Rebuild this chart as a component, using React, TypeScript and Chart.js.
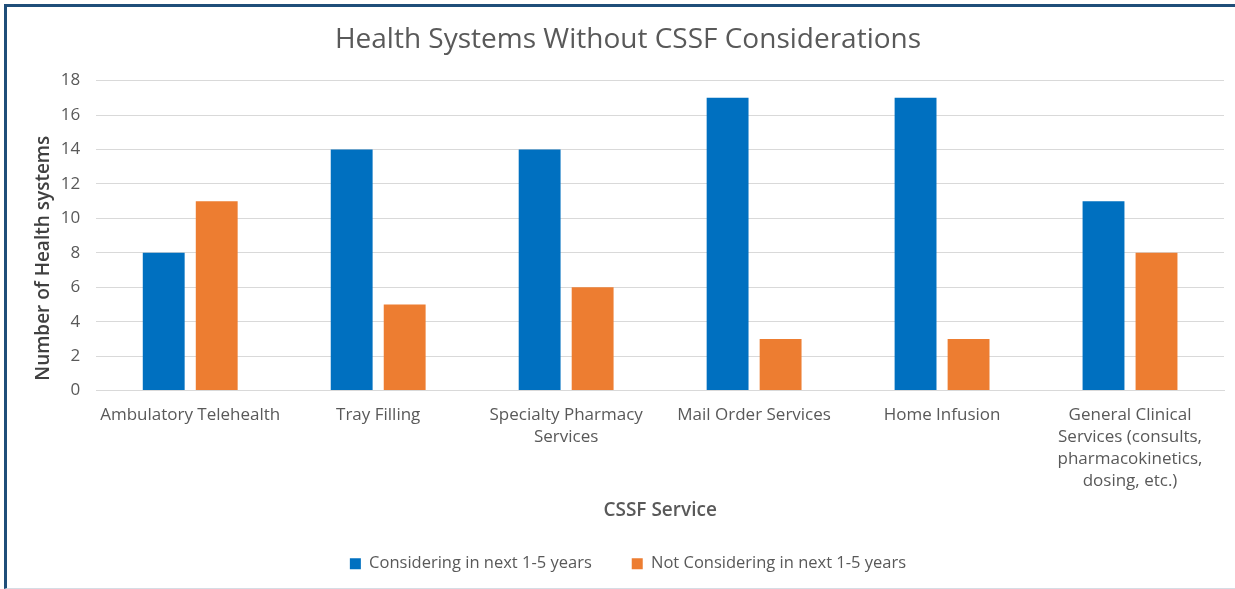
import React, { useEffect, useRef } from "react";
import { Chart, registerables } from "chart.js";

Chart.register(...registerables);

const chartTitle = "Health Systems Without CSSF Considerations";
const xAxisTitle = "CSSF Service";
const yAxisTitle = "  Number of Health systems";
const categories: string[][] = [
  ["Ambulatory Telehealth"],
  ["Tray Filling"],
  ["Specialty Pharmacy", "Services"],
  ["Mail Order Services"],
  ["Home Infusion"],
  ["General Clinical", "Services (consults,", "pharmacokinetics,", "dosing, etc.)"],
];
const seriesNames = ["Considering in next 1-5 years", "Not Considering in next 1-5 years"];
const considering = [8, 14, 14, 17, 17, 11];
const notConsidering = [11, 5, 6, 3, 3, 8];
const yMin = 0;
const yMax = 18;
const yStep = 2;

const FONT = "'Open Sans', Roboto, sans-serif";

export default function App() {
  const ref = useRef<HTMLCanvasElement | null>(null);

  useEffect(() => {
    document.body.style.margin = "0";
    const canvas = ref.current;
    if (!canvas) return;
    const chart = new Chart(canvas, {
      type: "bar",
      data: {
        labels: categories,
        datasets: [
          {
            label: seriesNames[0],
            data: considering,
            backgroundColor: "#0070C0",
            categoryPercentage: 0.564,
            barPercentage: 0.79,
          },
          {
            label: seriesNames[1],
            data: notConsidering,
            backgroundColor: "#ED7D31",
            categoryPercentage: 0.564,
            barPercentage: 0.79,
          },
        ],
      },
      options: {
        animation: false,
        responsive: false,
        maintainAspectRatio: false,
        layout: { padding: { left: 25, right: 11, top: 0, bottom: 6 } },
        plugins: {
          title: {
            display: true,
            text: chartTitle,
            color: "#595959",
            font: { family: FONT, size: 28, weight: "normal" },
            padding: { top: 16, bottom: 24 },
          },
          legend: {
            position: "bottom",
            labels: {
              boxWidth: 11,
              boxHeight: 11,
              padding: 40,
              color: "#595959",
              font: { family: FONT, size: 16.5 },
            },
          },
          tooltip: { enabled: false },
        },
        scales: {
          x: {
            grid: { display: false, drawTicks: false },
            border: { display: true, color: "#d9d9d9" },
            ticks: {
              color: "#595959",
              padding: 13,
              maxRotation: 0,
              autoSkip: false,
              font: { family: FONT, size: 17, lineHeight: 1.31 },
            },
            title: {
              display: true,
              text: xAxisTitle,
              color: "#595959",
              font: { family: FONT, size: 19, weight: "600" },
              padding: { top: -7, bottom: -6 },
            },
          },
          y: {
            min: yMin,
            max: yMax,
            grid: { color: "#d9d9d9", drawTicks: false },
            border: { display: false },
            ticks: {
              stepSize: yStep,
              color: "#595959",
              padding: 16,
              font: { family: FONT, size: 17 },
            },
            title: {
              display: true,
              text: yAxisTitle,
              align: "start",
              color: "#404040",
              font: { family: FONT, size: 19, weight: "600" },
              padding: { top: 0, bottom: -10 },
            },
          },
        },
      },
    });
    return () => chart.destroy();
  }, []);

  return (
    <div
      style={{
        position: "absolute",
        left: 4,
        top: 4,
        width: 1231,
        height: 585,
        boxSizing: "border-box",
        borderTop: "3px solid #1F4E79",
        borderLeft: "3px solid #1F4E79",
        borderBottom: "1px solid #d6dce4",
        background: "#fff",
      }}
    >
      <canvas ref={ref} width={1228} height={581} style={{ display: "block" }} />
    </div>
  );
}
